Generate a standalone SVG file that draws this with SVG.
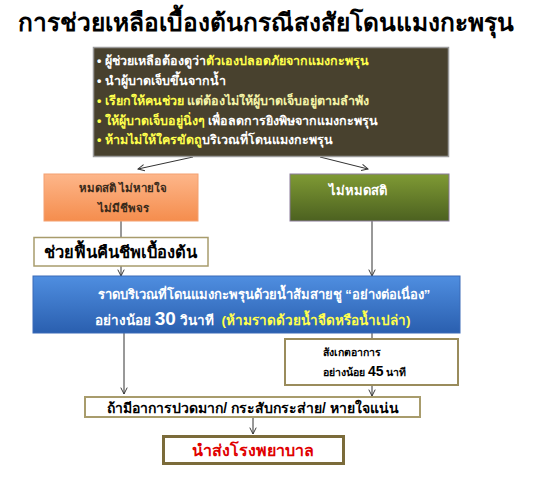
<svg xmlns="http://www.w3.org/2000/svg" width="537" height="477" viewBox="0 0 537 477">
<defs>
<style>
text{font-family:"Liberation Sans","Noto Sans",sans-serif;font-weight:bold}
.title{font-size:24.5px;fill:#000}
.dk{font-size:12.5px;fill:#fff}
.y{fill:#ffff4d}
.py{fill:#f4f4a8}
.w{fill:#fff}
.ln{stroke:#333;stroke-width:1;fill:none}
</style>
<marker id="ah" viewBox="0 0 10 10" refX="9" refY="5" markerWidth="8" markerHeight="8" orient="auto" markerUnits="userSpaceOnUse">
<path d="M1,1 L9,5 L1,9" fill="none" stroke="#333" stroke-width="1.2"/>
</marker>
<linearGradient id="og" x1="0" y1="0" x2="0" y2="1">
<stop offset="0" stop-color="#fdb68a"/><stop offset="1" stop-color="#f58d4d"/>
</linearGradient>
<linearGradient id="gg" x1="0" y1="0" x2="0" y2="1">
<stop offset="0" stop-color="#7f9a34"/><stop offset="1" stop-color="#4c6120"/>
</linearGradient>
<linearGradient id="bg" x1="0" y1="0" x2="0" y2="1">
<stop offset="0" stop-color="#4f8ee0"/><stop offset="1" stop-color="#2a5faf"/>
</linearGradient>
</defs>
<rect width="537" height="477" fill="#fff"/>
<text class="title" x="266" y="31" text-anchor="middle">การช่วยเหลือเบื้องต้นกรณีสงสัยโดนแมงกะพรุน</text>

<g id="connectors">
<line class="ln" x1="193" y1="157" x2="138" y2="169" marker-end="url(#ah)"/>
<line class="ln" x1="320" y1="157" x2="368" y2="169" marker-end="url(#ah)"/>
<line class="ln" x1="121" y1="221" x2="121" y2="237"/>
<line class="ln" x1="121" y1="266" x2="121" y2="276" marker-end="url(#ah)"/>
<line class="ln" x1="372" y1="221" x2="372" y2="276" marker-end="url(#ah)"/>
<line class="ln" x1="124" y1="333" x2="124" y2="394" marker-end="url(#ah)"/>
<line class="ln" x1="372" y1="333" x2="372" y2="339"/>
<line class="ln" x1="372" y1="385" x2="372" y2="396" marker-end="url(#ah)"/>
<line class="ln" x1="253" y1="417" x2="253" y2="434" marker-end="url(#ah)"/>
</g>

<g id="n-first">
<rect x="93.5" y="47.5" width="355" height="109" fill="#48412e" stroke="#9a9a9a" stroke-width="1.5"/>
<text class="dk" x="97" y="65"><tspan class="w">• ผู้ช่วยเหลือต้องดูว่า</tspan><tspan class="y">ตัวเองปลอดภัยจากแมงกะพรุน</tspan></text>
<text class="dk" x="97" y="85"><tspan class="w">• นำผู้บาดเจ็บขึ้นจากน้ำ</tspan></text>
<text class="dk" x="97" y="105"><tspan class="y">• เรียกให้คนช่วย </tspan><tspan class="py">แต่ต้องไม่ให้ผู้บาดเจ็บอยู่ตามลำพัง</tspan></text>
<text class="dk" x="97" y="125"><tspan class="y">• ให้ผู้บาดเจ็บอยู่นิ่งๆ </tspan><tspan class="w">เพื่อลดการยิงพิษจากแมงกะพรุน</tspan></text>
<text class="dk" x="97" y="144"><tspan class="y">• ห้ามไม่ให้ใครขัดถู</tspan><tspan class="w">บริเวณที่โดนแมงกะพรุน</tspan></text>
</g>

<g id="n-unconscious">
<rect x="44" y="174" width="154" height="47" fill="url(#og)" stroke="#f3a070" stroke-width="1"/>
<text x="123" y="192" text-anchor="middle" font-size="11.5" fill="#3a2a1a">หมดสติ ไม่หายใจ</text>
<text x="123" y="212" text-anchor="middle" font-size="11.5" fill="#3a2a1a">ไม่มีชีพจร</text>
</g>

<g id="n-conscious">
<rect x="290" y="174" width="159" height="47" fill="url(#gg)" stroke="#8a7a9a" stroke-width="1"/>
<text x="358" y="195" text-anchor="middle" font-size="13" fill="#fff">ไม่หมดสติ</text>
</g>

<g id="n-cpr">
<rect x="34" y="237.5" width="174" height="28.5" fill="#fff" stroke="#a89c6c" stroke-width="1.5"/>
<text x="120" y="258" text-anchor="middle" font-size="16.5" fill="#000">ช่วยฟื้นคืนชีพเบื้องต้น</text>
</g>

<g id="n-vinegar">
<rect x="33" y="276" width="427" height="57" fill="url(#bg)" stroke="#3a6ab8" stroke-width="1"/>
<text x="264" y="299" text-anchor="middle" font-size="13" fill="#fff">ราดบริเวณที่โดนแมงกะพรุนด้วยน้ำส้มสายชู “อย่างต่อเนื่อง”</text>
<text x="95" y="325" font-size="13.5" fill="#fff">อย่างน้อย <tspan font-size="19">30</tspan> วินาที <tspan dx="4" fill="#ffff4d">(ห้ามราดด้วยน้ำจืดหรือน้ำเปล่า)</tspan></text>
</g>

<g id="n-observe">
<rect x="285" y="339" width="173" height="46" fill="#fff" stroke="#9a8c5c" stroke-width="2"/>
<text x="323" y="356" font-size="10.5" fill="#000">สังเกตอาการ</text>
<text x="323" y="376" font-size="10.5" fill="#000">อย่างน้อย <tspan font-size="14">45</tspan> นาที</text>
</g>

<g id="n-symptoms">
<rect x="85" y="397" width="335" height="20" fill="#fff" stroke="#a89c6c" stroke-width="2"/>
<text x="253" y="413" text-anchor="middle" font-size="14" fill="#000">ถ้ามีอาการปวดมาก/ กระสับกระส่าย/ หายใจแน่น</text>
</g>

<g id="n-hospital">
<rect x="163.5" y="436.5" width="180" height="27" fill="#fff" stroke="#7b6b3a" stroke-width="3"/>
<text x="253" y="456" text-anchor="middle" font-size="16" fill="#e00000">นำส่งโรงพยาบาล</text>
</g>
</svg>
